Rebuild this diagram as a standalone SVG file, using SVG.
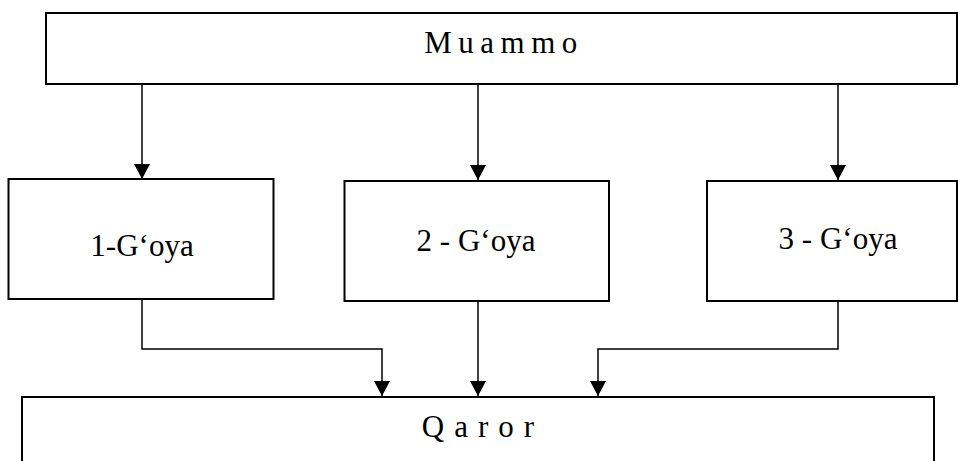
<svg xmlns="http://www.w3.org/2000/svg" width="958" height="461" viewBox="0 0 958 461">
<style>
.box{fill:#fff;stroke:#000;stroke-width:2}
.lbl{font-family:"Times New Roman",Times,"Liberation Serif","Noto Serif","DejaVu Serif",serif;font-size:31px;fill:#000;text-anchor:middle}
.con{fill:none;stroke:#000;stroke-width:1.5}
</style>
<defs>
<marker id="ah" markerWidth="16" markerHeight="16" viewBox="0 0 16 16" refX="15" refY="8" orient="auto" markerUnits="userSpaceOnUse">
<path d="M0,0 L15,8 L0,16 Z" fill="#000"/>
</marker>
</defs>
<g id="muammo">
<rect class="box" x="46" y="13" width="911" height="71"/>
<text class="lbl" x="504" y="53" style="letter-spacing:6.5px">Muammo</text>
</g>
<g id="goya1">
<rect class="box" x="8.5" y="179" width="265" height="120"/>
<text class="lbl" x="142" y="256">1-G‘oya</text>
</g>
<g id="goya2">
<rect class="box" x="344.5" y="181" width="264.5" height="120"/>
<text class="lbl" x="476" y="250.5">2 - G‘oya</text>
</g>
<g id="goya3">
<rect class="box" x="707" y="181" width="250" height="120"/>
<text class="lbl" x="838" y="249">3 - G‘oya</text>
</g>
<g id="qaror">
<rect class="box" x="22" y="397" width="912" height="80"/>
<text class="lbl" x="483" y="437" style="letter-spacing:10px">Qaror</text>
</g>
<g id="connectors">
<path class="con" d="M142,84 V179" marker-end="url(#ah)"/>
<path class="con" d="M478,84 V180" marker-end="url(#ah)"/>
<path class="con" d="M838,84 V180" marker-end="url(#ah)"/>
<path class="con" d="M142,299 V349 H382 V396" marker-end="url(#ah)"/>
<path class="con" d="M478,301 V396" marker-end="url(#ah)"/>
<path class="con" d="M838,301 V349 H598 V396" marker-end="url(#ah)"/>
</g>
</svg>
